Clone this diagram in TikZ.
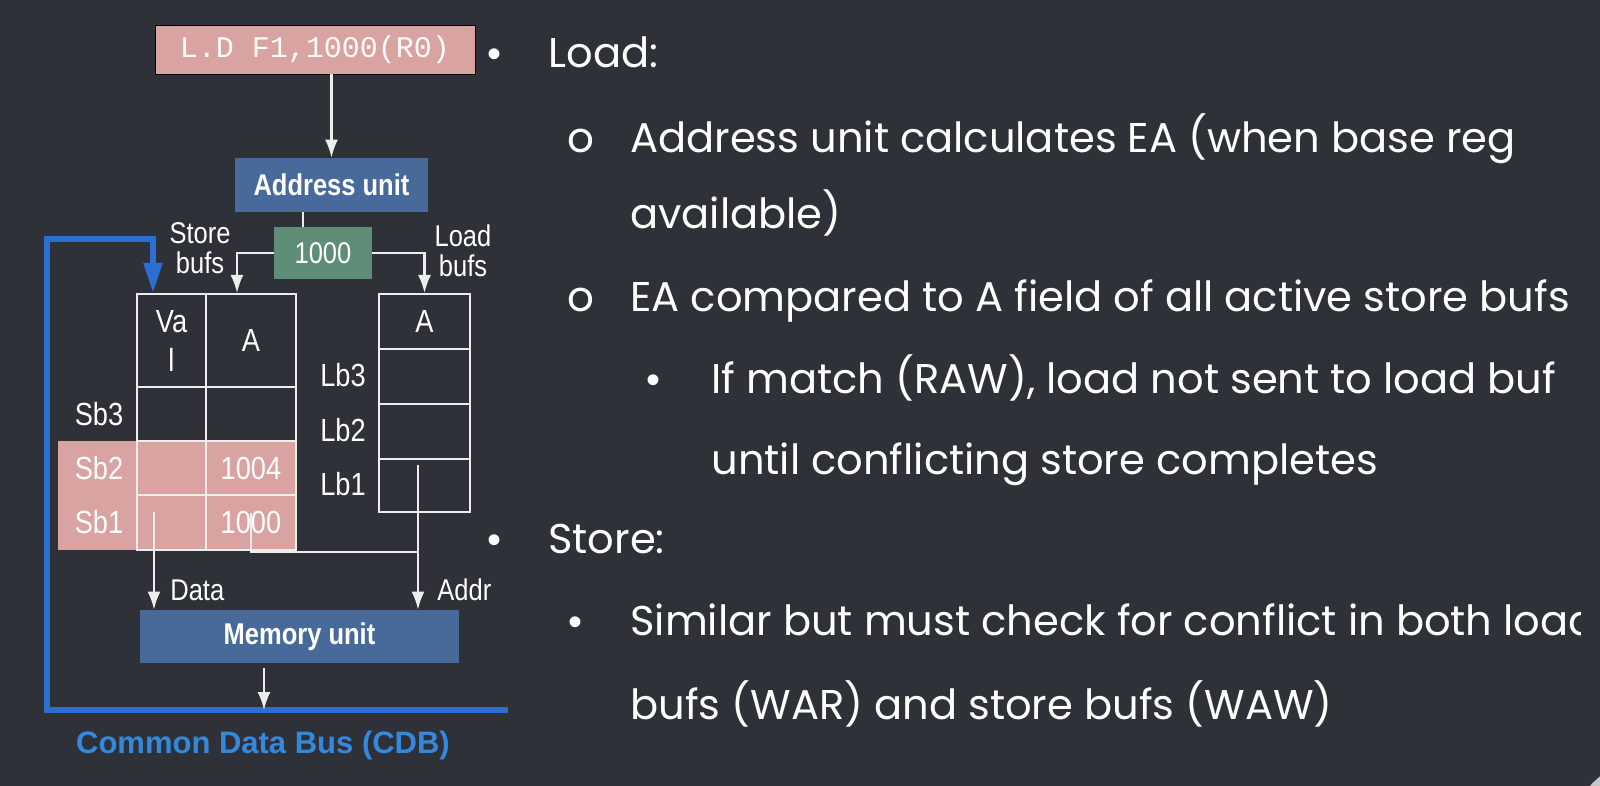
\documentclass[tikz,border=0pt]{standalone}
\usepackage{fontspec}
\setmainfont{Liberation Sans}
\newfontfamily\narrowfont[FakeStretch=0.85]{Liberation Sans}
\newfontfamily\slidefont{Poppins}
\newfontfamily\codefont{Liberation Mono}
\usetikzlibrary{arrows.meta}

\definecolor{slidebg}{HTML}{2F3139}
\definecolor{instrpink}{HTML}{D9A3A1}
\definecolor{unitblue}{HTML}{476A9A}
\definecolor{addrgreen}{HTML}{5E8E78}
\definecolor{cdbblue}{HTML}{2C6FD3}
\definecolor{cdbtext}{HTML}{3489DC}
\definecolor{wirewhite}{HTML}{EDEDED}

\tikzset{
  wire/.style={draw=wirewhite, line width=1.1pt, -{Latex[width=6.5pt,length=9pt]}},
  tap/.style={draw=wirewhite, line width=1.1pt},
  bus/.style={draw=cdbblue, line width=2.6pt},
  cell/.style={draw=wirewhite, line width=1pt, inner sep=0pt, text=white, align=center,
    font=\narrowfont\fontsize{16}{19.5}\selectfont},
  unitbox/.style={fill=unitblue, text=white, inner sep=0pt,
    font=\narrowfont\bfseries\fontsize{15}{15}\selectfont},
  lbl/.style={text=white, inner sep=0pt, align=center, font=\narrowfont\fontsize{15}{15}\selectfont},
  slide/.style={text=white, inner sep=0pt, anchor=base west, font=\slidefont\fontsize{20.8}{24}\selectfont},
  dot/.style={text=white, inner sep=0pt, anchor=base, font=\fontsize{20}{24}\selectfont},
  ring/.style={dot, font=\slidefont\fontsize{21}{24}\selectfont},
}

\begin{document}
\begin{tikzpicture}[x=0.5pt, y=-0.5pt]
    \clip (0,0) rectangle (1600,786);
    \fill[slidebg] (0,0) rectangle (1600,786);
    \fill[gray!45] (1660,850) circle (95);

    % Instruction and address unit
    \node[draw=black, fill=instrpink, text=white!94!pink, minimum width=160pt, minimum height=24.5pt,
      inner sep=0pt, font=\codefont\fontsize{15}{15}\selectfont] (ld) at (315,49.5) {L.D F1,1000(R0)};
    \node[unitbox, minimum width=96.5pt, minimum height=27pt] (addr) at (331.5,185) {Address unit};
    \node[fill=addrgreen, text=white, minimum width=49pt, minimum height=26pt, inner sep=0pt,
      font=\narrowfont\fontsize{15}{15}\selectfont] (num) at (323,253) {1000};
    \node[lbl] (sbufs) at (200,248) {Store\\bufs};
    \node[lbl] (lbufs) at (463,251) {Load\\bufs};

    % Store buffers
    \fill[instrpink] (58,441) rectangle (296,550);
    \node[cell, minimum width=34.5pt, minimum height=46.5pt] (sbVh) at (171.5,340.5) {Va\\l};
    \node[cell, minimum width=45pt, minimum height=46.5pt] (sbAh) at (251,340.5) {A};
    \node[cell, minimum width=34.5pt, minimum height=27pt] (sbV3) at (171.5,414) {};
    \node[cell, minimum width=45pt, minimum height=27pt] (sbA3) at (251,414) {};
    \node[cell, minimum width=34.5pt, minimum height=27pt] (sbV2) at (171.5,468) {};
    \node[cell, minimum width=45pt, minimum height=27pt] (sbA2) at (251,468) {1004};
    \node[cell, minimum width=34.5pt, minimum height=27.5pt] (sbV1) at (171.5,522.5) {};
    \node[cell, minimum width=45pt, minimum height=27.5pt] (sbA1) at (251,522.5) {1000};
    \node[cell, draw=none] (sb3) at (99,414) {Sb3};
    \node[cell, draw=none] (sb2) at (99,468) {Sb2};
    \node[cell, draw=none] (sb1) at (99,522) {Sb1};

    % Load buffers
    \node[cell, minimum width=45.5pt, minimum height=27.5pt] (lbh) at (424.5,321.5) {A};
    \node[cell, minimum width=45.5pt, minimum height=27.5pt] (lb3) at (424.5,376.5) {};
    \node[cell, minimum width=45.5pt, minimum height=27.5pt] (lb2) at (424.5,431.5) {};
    \node[cell, minimum width=45.5pt, minimum height=26.5pt] (lb1) at (424.5,485.5) {};
    \node[cell, draw=none] (lb3l) at (343,375) {Lb3};
    \node[cell, draw=none] (lb2l) at (343,430) {Lb2};
    \node[cell, draw=none] (lb1l) at (343,484) {Lb1};

    % Memory unit and CDB
    \node[unitbox, minimum width=159.5pt, minimum height=26.5pt] (mem) at (299.5,636.5) {Memory unit};
    \node[lbl, anchor=west] (data) at (170,590) {Data};
    \node[lbl, anchor=west] (addrl) at (437,590) {Addr};
    \node[text=cdbtext, inner sep=0pt, font=\bfseries\fontsize{15.5}{15.5}\selectfont] (cdb) at (263,745)
      {Common Data Bus (CDB)};

    \coordinate (busR) at (508,710);
    \coordinate (busL) at (47,710);
    \coordinate (busTop) at (47,239);
    \coordinate (dataTap) at (154,512);
    \coordinate (addrTap) at (251,513);
    \coordinate (addrJoin) at (418,552);
    \coordinate (lbTap) at (418,465);
    \coordinate (memOut) at (264,668);

    % Connectors
    \draw[wire] (addr.north |- ld.south) -- (addr.north);
    \draw[tap] ([xshift=-10pt]num.north) -- ([xshift=-10pt]num.north |- addr.south);
    \draw[wire] (num.west) -| ([xshift=-7pt]sbAh.north);
    \draw[wire] (num.east) -| (lbh.north);
    \draw[bus, -{Triangle[width=9pt,length=15pt]}] (busR) -- (busL) -- (busTop) -| ([xshift=-9.25pt]sbVh.north);
    \draw[wire] (dataTap) -- (dataTap |- mem.north);
    \draw[tap] (addrTap) |- (addrJoin);
    \draw[wire] (lbTap) -- (lbTap |- mem.north);
    \draw[wire] (memOut) -- (memOut |- busL);

    % Slide text
    \begin{scope}
    \clip (480,0) rectangle (1580,786);
    \node[dot] (b1) at (494,68) {•};
    \node[slide] (load) at (548,68) {Load:};
    \node[ring] (o1) at (581,153) {o};
    \node[slide] (l1) at (630,153) {Address unit calculates EA (when base reg};
    \node[slide] (l2) at (630,229) {available)};
    \node[ring] (o2) at (581,311) {o};
    \node[slide] (l3) at (630,311) {EA compared to A field of all active store bufs};
    \node[dot] (b2) at (653,393) {•};
    \node[slide] (l4) at (711,393) {If match (RAW), load not sent to load buf};
    \node[slide] (l5) at (711,474) {until conflicting store completes};
    \node[dot] (b3) at (494,553) {•};
    \node[slide] (store) at (548,553) {Store:};
    \node[dot] (b4) at (575,635) {•};
    \node[slide] (l6) at (630,635) {Similar but must check for conflict in both load};
    \node[slide] (l7) at (630,719) {bufs (WAR) and store bufs (WAW)};
    \end{scope}
\end{tikzpicture}
\end{document}
